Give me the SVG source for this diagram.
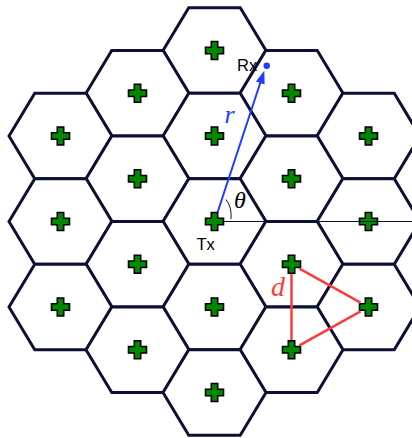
<svg xmlns="http://www.w3.org/2000/svg" xmlns:xlink="http://www.w3.org/1999/xlink" width="412" height="438" viewBox="0 0 412 438">
<style>
.hex{fill:#fff;stroke:#0d1033;stroke-width:3;stroke-linejoin:miter}
.bs{fill:#008a00;stroke:#000;stroke-width:1.6;stroke-linejoin:miter}
.lbl{font-family:"Liberation Sans",Arial,sans-serif;fill:#000}
.math{font-family:"Liberation Serif","DejaVu Serif",serif;font-style:italic}
</style>
<defs>
<polygon id="h" points="-51.5,0 -25.75,-42.75 25.75,-42.75 51.5,0 25.75,42.75 -25.75,42.75"/>
<path id="c" d="M-3.2,-9h6.4v5.8h5.8v6.4h-5.8v5.8h-6.4v-5.8h-5.8v-6.4h5.8z"/>
</defs>
<rect width="412" height="438" fill="#fff"/>
<g id="cells">
<g id="n1" transform="translate(214.5,50.5)"><use href="#h" class="hex"/><use href="#c" class="bs"/></g>
<g id="n2" transform="translate(137.5,93.25)"><use href="#h" class="hex"/><use href="#c" class="bs"/></g>
<g id="n3" transform="translate(291.5,93.25)"><use href="#h" class="hex"/><use href="#c" class="bs"/></g>
<g id="n4" transform="translate(60.5,136)"><use href="#h" class="hex"/><use href="#c" class="bs"/></g>
<g id="n5" transform="translate(214.5,136)"><use href="#h" class="hex"/><use href="#c" class="bs"/></g>
<g id="n6" transform="translate(368.5,136)"><use href="#h" class="hex"/><use href="#c" class="bs"/></g>
<g id="n7" transform="translate(137.5,178.75)"><use href="#h" class="hex"/><use href="#c" class="bs"/></g>
<g id="n8" transform="translate(291.5,178.75)"><use href="#h" class="hex"/><use href="#c" class="bs"/></g>
<g id="n9" transform="translate(60.5,221.5)"><use href="#h" class="hex"/><use href="#c" class="bs"/></g>
<g id="tx" transform="translate(214.5,221.5)"><use href="#h" class="hex"/><use href="#c" class="bs"/></g>
<g id="n11" transform="translate(368.5,221.5)"><use href="#h" class="hex"/><use href="#c" class="bs"/></g>
<g id="n12" transform="translate(137.5,264.25)"><use href="#h" class="hex"/><use href="#c" class="bs"/></g>
<g id="n13" transform="translate(291.5,264.25)"><use href="#h" class="hex"/><use href="#c" class="bs"/></g>
<g id="n14" transform="translate(60.5,307)"><use href="#h" class="hex"/><use href="#c" class="bs"/></g>
<g id="n15" transform="translate(214.5,307)"><use href="#h" class="hex"/><use href="#c" class="bs"/></g>
<g id="n16" transform="translate(368.5,307)"><use href="#h" class="hex"/><use href="#c" class="bs"/></g>
<g id="n17" transform="translate(137.5,349.75)"><use href="#h" class="hex"/><use href="#c" class="bs"/></g>
<g id="n18" transform="translate(291.5,349.75)"><use href="#h" class="hex"/><use href="#c" class="bs"/></g>
<g id="n19" transform="translate(214.5,392.5)"><use href="#h" class="hex"/><use href="#c" class="bs"/></g>
</g>
<g id="connectors" fill="none">
<line x1="224" y1="221.5" x2="412" y2="221.5" stroke="#0d1033" stroke-width="1"/>
<path d="M226,199.5 Q232,207 231,219" stroke="#0d1033" stroke-width="1"/>
<line x1="217.5" y1="212.5" x2="260.4" y2="82.5" stroke="#1f3cff" stroke-width="2"/>
<polygon points="264.3,70.7 264.6,84.6 255.9,81.6" fill="#1f3cff"/>
<circle cx="266.7" cy="65.7" r="3.2" fill="#1f3cff"/>
<g stroke="#ff3b3b" stroke-width="2.5">
<line x1="291.5" y1="274" x2="291.5" y2="340"/>
<line x1="299.5" y1="268.7" x2="360.5" y2="302.6"/>
<line x1="299.5" y1="345.3" x2="360.5" y2="311.4"/>
</g>
</g>
<g id="labels">
<text class="lbl" x="237" y="71" font-size="16.5">Rx</text>
<text class="lbl" x="196.5" y="250" font-size="16.5">Tx</text>
<text class="math" x="224.5" y="123" font-size="26" fill="#1f3cff">r</text>
<text class="math" x="234" y="208" font-size="24" fill="#000">θ</text>
<text class="math" x="271" y="296" font-size="28" fill="#ff3b3b">d</text>
</g>
</svg>
